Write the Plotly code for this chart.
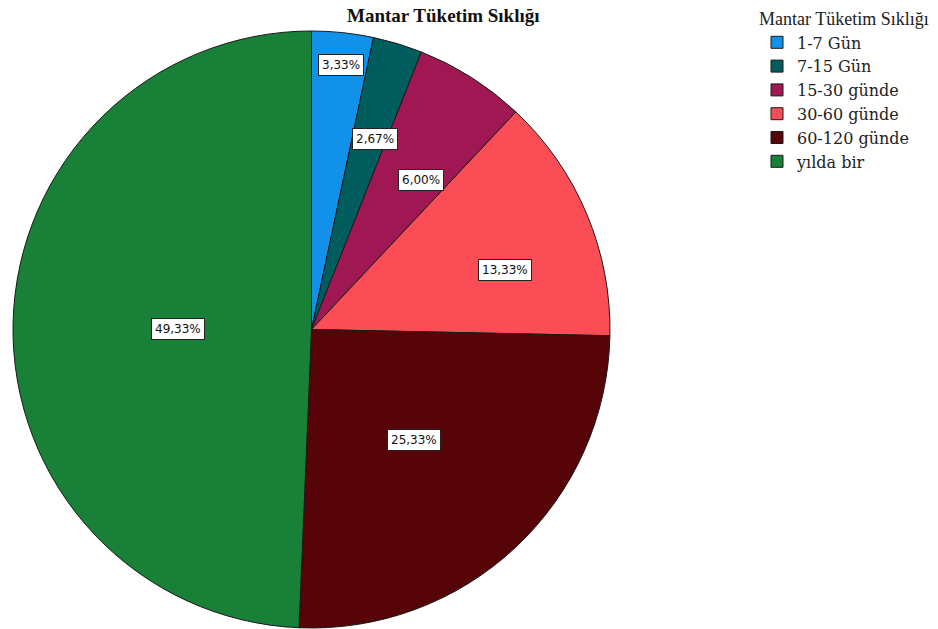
import math
import plotly.graph_objects as go

categories = ["1-7 Gün", "7-15 Gün", "15-30 günde", "30-60 günde", "60-120 günde", "yılda bir"]
percents = [3.33, 2.67, 6.00, 13.33, 25.33, 49.33]
colors = ["#1192e8", "#005d5d", "#9f1853", "#fa4d56", "#570408", "#198038"]
# label placement style: radial fraction and position within slice (0..1)
label_radius = [0.89, 0.673, 0.62, 0.677, 0.505, 0.447]
label_angle_frac = [0.53, 0.67, 0.68, 0.62, 0.505, 0.494]
title_text = "Mantar Tüketim Sıklığı"

W, H = 938, 629
left, right, top, bottom = 13, 610, 31, 628
cx, cy = (left + right) / 2, (top + bottom) / 2
R = (right - left) / 2

fig = go.Figure(go.Pie(
    labels=categories,
    values=percents,
    marker=dict(colors=colors, line=dict(color="#1a1a1a", width=1)),
    sort=False,
    direction="clockwise",
    rotation=0,
    textinfo="none",
    hoverinfo="label+percent",
    domain=dict(x=[left / W, right / W], y=[1 - bottom / H, 1 - top / H]),
))

total = sum(percents)
cum = 0.0
annotations = []
for v, f, af in zip(percents, label_radius, label_angle_frac):
    ang = (cum + v * af) / total * 2 * math.pi
    cum += v
    px = cx + R * f * math.sin(ang)
    py = cy - R * f * math.cos(ang)
    annotations.append(dict(
        x=px / W, y=1 - py / H, xref="paper", yref="paper",
        xanchor="center", yanchor="middle",
        text=f"{v:.2f}".replace(".", ",") + "%",
        showarrow=False,
        font=dict(family="DejaVu Sans", size=12, color="#111111"),
        bgcolor="white", bordercolor="#222222", borderwidth=1, borderpad=3,
    ))

serif = "Liberation Serif, Times New Roman, serif"
annotations.append(dict(
    x=443 / W, y=1 - 15 / H, xref="paper", yref="paper",
    xanchor="center", yanchor="middle",
    text=f"<b>{title_text}</b>", showarrow=False,
    font=dict(family=serif, size=19, color="#111111"),
))

fig.update_layout(
    width=W, height=H,
    margin=dict(l=0, r=0, t=0, b=0),
    paper_bgcolor="white", plot_bgcolor="white",
    annotations=annotations,
    showlegend=True,
    legend=dict(
        x=757 / W, y=1 - 2 / H, xanchor="left", yanchor="top",
        title=dict(text=title_text, side="top", font=dict(family=serif, size=18, color="#222222")),
        font=dict(family="DejaVu Serif, serif", size=16, color="#222222"),
        itemwidth=30, tracegroupgap=0,
        bgcolor="rgba(0,0,0,0)",
    ),
)

fig.write_html("out.html")
